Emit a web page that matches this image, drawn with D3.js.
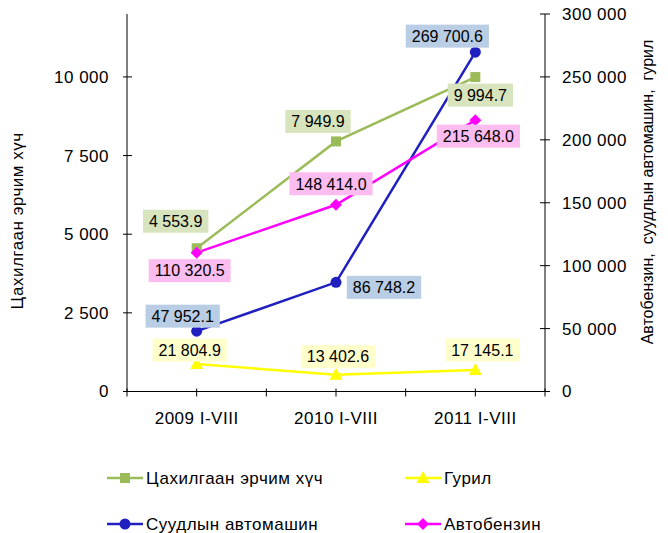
<!DOCTYPE html>
<html>
<head>
<meta charset="utf-8">
<script src="https://cdn.jsdelivr.net/npm/d3@7/dist/d3.min.js"></script>
<style>
  body { margin: 0; background: #fff; }
  svg text { font-family: "Liberation Sans", Arial, sans-serif; fill: #000; }
</style>
</head>
<body>
<svg id="chart" width="668" height="533"></svg>
<script>
// Periods on the x axis
const periods = ["2009 I-VIII", "2010 I-VIII", "2011 I-VIII"];

// Series values
const electricity = [4553.9, 7949.9, 9994.7];      // left axis
const flour = [21804.9, 13402.6, 17145.1];          // right axis
const cars = [47952.1, 86748.2, 269700.6];          // right axis
const gasoline = [110320.5, 148414.0, 215648.0];    // right axis

// Axis ticks
const leftTicks = [0, 2500, 5000, 7500, 10000];
const rightTicks = [0, 50000, 100000, 150000, 200000, 250000, 300000];

// Series names
const names = ["Цахилгаан эрчим хүч", "Гурил", "Суудлын автомашин", "Автобензин"];

const svg = d3.select("#chart");
const plot = { left: 127, right: 545, top: 14, bottom: 391.5 };

const x = d3.scaleBand().domain(periods).range([plot.left, plot.right]);
const yL = d3.scaleLinear().domain([0, 12000]).range([plot.bottom, plot.top]);
const yR = d3.scaleLinear().domain([0, 300000]).range([plot.bottom, plot.top]);
const cx = p => x(p) + x.bandwidth() / 2;

const fmt = v => d3.format(",.1f")(v).replace(/,/g, " ");
const fmtTick = v => d3.format(",")(v).replace(/,/g, " ");

const series = [
  { name: names[0], values: electricity, scale: yL, color: "#9bbb59", label: "#d7e4bd", marker: "square",
    offsets: [[-21, -27], [-18, -20], [5, 18]] },
  { name: names[1], values: flour, scale: yR, color: "#ffff00", label: "#ffffcc", marker: "triangle",
    offsets: [[-7, -14], [2, -18], [7, -20]] },
  { name: names[2], values: cars, scale: yR, color: "#2020c0", label: "#b9cde5", marker: "circle",
    offsets: [[-14, -15], [48, 5], [-28, -16]] },
  { name: names[3], values: gasoline, scale: yR, color: "#ff00ff", label: "#fbbcf0", marker: "diamond",
    offsets: [[-7, 18], [-5, -21], [3, 16]] }
];

const textSize = 17;
const textSpacing = 0.5;

// Axes lines
const axisColor = "#000";
svg.append("line").attr("x1", plot.left).attr("x2", plot.left).attr("y1", plot.top).attr("y2", plot.bottom)
  .attr("stroke", axisColor).attr("stroke-width", 1);
svg.append("line").attr("x1", plot.right).attr("x2", plot.right).attr("y1", plot.top).attr("y2", plot.bottom)
  .attr("stroke", axisColor).attr("stroke-width", 1);
svg.append("line").attr("x1", plot.left).attr("x2", plot.right).attr("y1", plot.bottom).attr("y2", plot.bottom)
  .attr("stroke", axisColor).attr("stroke-width", 1);

// Left ticks
leftTicks.forEach(t => {
  const y = yL(t);
  svg.append("line").attr("x1", plot.left - 4).attr("x2", plot.left + 5).attr("y1", y).attr("y2", y)
    .attr("stroke", axisColor);
  svg.append("text").attr("x", plot.left - 18).attr("y", y).attr("dy", "0.35em")
    .attr("text-anchor", "end").attr("font-size", textSize).attr("letter-spacing", textSpacing)
    .text(fmtTick(t));
});

// Right ticks
rightTicks.forEach(t => {
  const y = yR(t);
  svg.append("line").attr("x1", plot.right - 5).attr("x2", plot.right + 5).attr("y1", y).attr("y2", y)
    .attr("stroke", axisColor);
  svg.append("text").attr("x", plot.right + 17).attr("y", y).attr("dy", "0.35em")
    .attr("text-anchor", "start").attr("font-size", textSize).attr("letter-spacing", textSpacing)
    .text(fmtTick(t));
});

// Bottom ticks: at band edges and centres
const bw = x.bandwidth();
for (let i = 0; i <= periods.length * 2; i++) {
  const xx = plot.left + i * bw / 2;
  svg.append("line").attr("x1", xx).attr("x2", xx).attr("y1", plot.bottom - 3).attr("y2", plot.bottom + 5)
    .attr("stroke", axisColor);
}
periods.forEach(p => {
  svg.append("text").attr("x", cx(p)).attr("y", 424).attr("text-anchor", "middle")
    .attr("font-size", textSize).attr("letter-spacing", textSpacing).text(p);
});

// Axis titles
svg.append("text").attr("transform", `translate(23,${221}) rotate(-90)`)
  .attr("text-anchor", "middle").attr("font-size", textSize).attr("letter-spacing", textSpacing)
  .text(names[0]);
svg.append("text").attr("transform", `translate(653,${192}) rotate(-90)`)
  .attr("text-anchor", "middle").attr("font-size", 16).attr("xml:space", "preserve")
  .text("Автобензин,  суудлын автомашин,  гурил");

// Marker drawing
function marker(g, type, px, py, color, scale) {
  const k = scale || 1;
  if (type === "square") {
    g.append("rect").attr("x", px - 5 * k).attr("y", py - 5 * k).attr("width", 10 * k).attr("height", 10 * k)
      .attr("fill", color);
  } else if (type === "circle") {
    g.append("circle").attr("cx", px).attr("cy", py).attr("r", 5.5 * k).attr("fill", color);
  } else if (type === "triangle") {
    g.append("path").attr("d", `M${px},${py - 7 * k}L${px + 6.5 * k},${py + 5 * k}L${px - 6.5 * k},${py + 5 * k}Z`)
      .attr("fill", color);
  } else if (type === "diamond") {
    g.append("path").attr("d", `M${px},${py - 6 * k}L${px + 6 * k},${py}L${px},${py + 6 * k}L${px - 6 * k},${py}Z`)
      .attr("fill", color);
  }
}

// Lines and markers
const gLines = svg.append("g");
series.forEach(s => {
  const line = d3.line().x((d, i) => cx(periods[i])).y(d => s.scale(d));
  gLines.append("path").datum(s.values).attr("d", line).attr("fill", "none")
    .attr("stroke", s.color).attr("stroke-width", 2.5);
});
series.forEach(s => {
  s.values.forEach((v, i) => marker(gLines, s.marker, cx(periods[i]), s.scale(v), s.color));
});

// Data labels
const gLabels = svg.append("g");
series.forEach(s => {
  s.values.forEach((v, i) => {
    const px = cx(periods[i]) + s.offsets[i][0];
    const py = s.scale(v) + s.offsets[i][1];
    const g = gLabels.append("g");
    const t = g.append("text").attr("x", px).attr("y", py).attr("dy", "0.36em")
      .attr("text-anchor", "middle").attr("font-size", 16).text(fmt(v));
    const w = t.node().getComputedTextLength();
    g.insert("rect", "text").attr("x", px - w / 2 - 6).attr("y", py - 11.5)
      .attr("width", w + 12).attr("height", 23).attr("fill", s.label);
  });
});

// Legend
const legendItems = [
  { s: series[0], x: 107, y: 478 },
  { s: series[1], x: 405, y: 478 },
  { s: series[2], x: 107, y: 524 },
  { s: series[3], x: 405, y: 524 }
];
legendItems.forEach(li => {
  const g = svg.append("g");
  g.append("line").attr("x1", li.x).attr("x2", li.x + 36).attr("y1", li.y).attr("y2", li.y)
    .attr("stroke", li.s.color).attr("stroke-width", 2.5);
  marker(g, li.s.marker, li.x + 18, li.y, li.s.color, 1);
  g.append("text").attr("x", li.x + 39).attr("y", li.y).attr("dy", "0.35em")
    .attr("font-size", textSize).attr("letter-spacing", textSpacing).text(li.s.name);
});
</script>
</body>
</html>
